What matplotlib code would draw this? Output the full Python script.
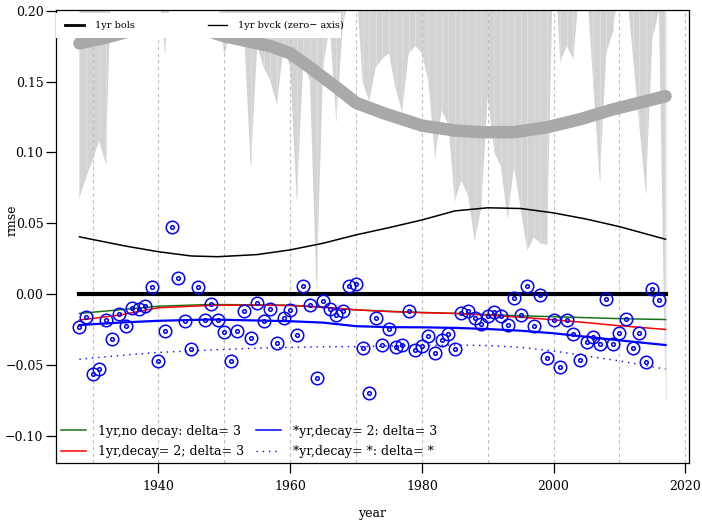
import numpy as np
from matplotlib import pyplot as plt
from matplotlib.lines import Line2D
from matplotlib.patches import Rectangle

plt.rcParams['font.family'] = ['DejaVu Serif']

# yearly rmse points (one per year, 1928-2016)
years = list(range(1928, 2017))
rmse = [-0.0229, -0.0159, -0.0561, -0.0528, -0.0182, -0.0316, -0.0142, -0.0224, -0.0096, -0.0101,
        -0.0084, 0.0051, -0.0470, -0.0260, 0.0472, 0.0114, -0.0187, -0.0388, 0.0051, -0.0178,
        -0.0066, -0.0182, -0.0266, -0.0468, -0.0262, -0.0119, -0.0306, -0.0061, -0.0189, -0.0101,
        -0.0344, -0.0164, -0.0108, -0.0290, 0.0061, -0.0075, -0.0587, -0.0049, -0.0103, -0.0143,
        -0.0117, 0.0061, 0.0070, -0.0379, -0.0699, -0.0168, -0.0355, -0.0245, -0.0372, -0.0358,
        -0.0115, -0.0395, -0.0362, -0.0292, -0.0412, -0.0320, -0.0278, -0.0388, -0.0133, -0.0115,
        -0.0170, -0.0213, -0.0154, -0.0126, -0.0154, -0.0215, -0.0026, -0.0143, 0.0056, -0.0224,
        -0.0002, -0.0451, -0.0182, -0.0510, -0.0178, -0.0278, -0.0463, -0.0337, -0.0302, -0.0351,
        -0.0030, -0.0353, -0.0273, -0.0173, -0.0376, -0.0271, -0.0475, 0.0037, -0.0037]

# lower edge of the grey band hanging from the top (1928-2017)
band_years = list(range(1928, 2018))
band = [0.068, 0.082, 0.095, 0.108, 0.092, 0.25, 0.25, 0.25, 0.25, 0.25,
        0.25, 0.25, 0.22, 0.170, 0.22, 0.25, 0.25, 0.25, 0.25, 0.25,
        0.25, 0.21, 0.168, 0.19, 0.19, 0.185, 0.090, 0.175, 0.160, 0.150,
        0.134, 0.175, 0.160, 0.066, 0.165, 0.150, 0.003, 0.160, 0.190, 0.122,
        0.190, 0.21, 0.22, 0.150, 0.136, 0.160, 0.166, 0.170, 0.145, 0.129,
        0.170, 0.175, 0.170, 0.150, 0.096, 0.130, 0.120, 0.066, 0.080, 0.070,
        0.038, 0.060, 0.140, 0.100, 0.090, 0.054, 0.090, 0.060, 0.031, 0.040,
        0.036, 0.035, 0.25, 0.164, 0.175, 0.166, 0.22, 0.22, 0.150, 0.080,
        0.170, 0.185, 0.22, 0.22, 0.170, 0.120, 0.0715, 0.180, 0.200, -0.075]

# smooth curves, read at sample years
bols_yrs = [1928, 2017]
bols = [0.0, 0.0]

grey_yrs = [1928, 1932, 1936, 1940, 1944, 1948, 1950, 1953, 1957, 1960, 1963, 1967, 1970,
            1974, 1980, 1985, 1989, 1994, 1999, 2004, 2009, 2013, 2017]
grey = [0.177, 0.181, 0.186, 0.188, 0.188, 0.185, 0.182, 0.179, 0.175, 0.170, 0.160, 0.146,
        0.135, 0.128, 0.119, 0.1155, 0.1143, 0.1143, 0.1178, 0.1234, 0.1304, 0.135, 0.1397]

bvck_yrs = [1928, 1935, 1940, 1945, 1949, 1955, 1960, 1965, 1970, 1975, 1980, 1985, 1990,
            1995, 2000, 2005, 2010, 2017]
bvck = [0.0405, 0.034, 0.030, 0.027, 0.0265, 0.028, 0.0313, 0.036, 0.0419, 0.047, 0.0524,
        0.0588, 0.061, 0.0605, 0.0574, 0.053, 0.0477, 0.0388]

fit_yrs = [1928, 1934, 1940, 1948, 1955, 1960, 1965, 1970, 1975, 1980, 1985, 1990, 1995,
           2000, 2005, 2010, 2017]
green = [-0.0135, -0.011, -0.0084, -0.0072, -0.0075, -0.0077, -0.009, -0.011, -0.012, -0.0128,
         -0.0135, -0.0143, -0.0152, -0.0158, -0.0165, -0.0172, -0.0178]
red = [-0.0182, -0.0147, -0.0095, -0.0078, -0.0077, -0.0079, -0.0092, -0.011, -0.0122, -0.013,
       -0.0135, -0.0148, -0.0162, -0.018, -0.020, -0.0222, -0.0248]
blue = [-0.0217, -0.020, -0.0187, -0.0178, -0.0185, -0.019, -0.020, -0.0225, -0.0232, -0.0233,
        -0.0237, -0.0245, -0.0257, -0.0275, -0.030, -0.0325, -0.0358]
dotted = [-0.0458, -0.0432, -0.041, -0.0393, -0.038, -0.0375, -0.037, -0.0369, -0.0365, -0.0362,
          -0.0358, -0.0362, -0.0374, -0.040, -0.0435, -0.047, -0.0528]

fig = plt.figure(figsize=(7.02, 5.20), dpi=100)
ax = fig.add_axes([56 / 702, 1 - 463 / 520, 633 / 702, 453 / 520])

ax.fill_between(band_years, band, 0.3, color='lightgray', linewidth=0, zorder=1)
# faint seams between the yearly pieces of the band
seam_lo = [min(b, 0.2) for b in band]
ax.vlines(band_years, seam_lo, 0.3, color='#e2e2e2', linewidth=0.5, zorder=1.5)
for yr in range(1930, 2021, 10):
    ax.axvline(yr, color='#bdbdbd', linestyle=(0, (3, 3)), linewidth=0.8, zorder=2)

ax.plot(grey_yrs, grey, color='darkgray', linewidth=9, solid_capstyle='round', zorder=3)
ax.plot(bvck_yrs, bvck, color='black', linewidth=1.1, zorder=4)
ax.plot(bols_yrs, bols, color='black', linewidth=3, zorder=4)
ax.plot(fit_yrs, green, color='#1a731a', linewidth=1.1, zorder=5)
ax.plot(fit_yrs, red, color='red', linewidth=1.1, zorder=5)
ax.plot(fit_yrs, blue, color='blue', linewidth=1.6, zorder=5)
ax.plot(fit_yrs, dotted, color='blue', linewidth=1.0, linestyle=(0, (1, 3.5)), zorder=5)

ax.plot(years, rmse, 'o', ms=9, mfc='none', mec='blue', mew=1.1, zorder=6)
ax.plot(years, rmse, 'o', ms=2.6, mfc='none', mec='blue', mew=1.1, zorder=6)

ax.set_xlim(1924.44, 2020.56)
ax.set_ylim(-0.119, 0.2005)
ax.set_xticks([1940, 1960, 1980, 2000, 2020])
ax.set_yticks([-0.10, -0.05, 0.0, 0.05, 0.10, 0.15, 0.20])
ax.set_yticklabels(['\u22120.10', '\u22120.05', '0.00', '0.05', '0.10', '0.15', '0.20'])
ax.tick_params(length=7, width=0.9, labelsize=9)
ax.tick_params(axis='x', pad=5)
ax.tick_params(axis='y', pad=2)
for sp in ax.spines.values():
    sp.set_linewidth(0.9)

fig.text(12 / 702, 1 - 220 / 520, 'rmse', rotation=90, ha='center', va='center', fontsize=9)
fig.text(372 / 702, 1 - 513 / 520, 'year', ha='center', va='center', fontsize=9)

# white box behind the top legend
ax.add_patch(Rectangle((0.0, 0.938), 0.45, 0.055, transform=ax.transAxes,
                       facecolor='white', edgecolor='none', zorder=9))
top_handles = [Line2D([], [], color='black', linewidth=2),
               Line2D([], [], color='black', linewidth=1)]
leg1 = ax.legend(top_handles, ['1yr bols', '1yr bvck (zero\u2212 axis)'], loc='center left',
                 bbox_to_anchor=(0.0, 0.9655), ncol=2, fontsize=7, frameon=False,
                 borderaxespad=0.0, borderpad=0.9, columnspacing=7.5, handlelength=2,
                 handletextpad=1.1)
leg1.set_zorder(10)
ax.add_artist(leg1)

bottom_handles = [Line2D([], [], color='#1a731a', linewidth=1.1),
                  Line2D([], [], color='red', linewidth=1.1),
                  Line2D([], [], color='blue', linewidth=1.1),
                  Line2D([], [], color='blue', linewidth=1.0, linestyle=(0, (1, 3.5)))]
ax.legend(bottom_handles,
          ['1yr,no decay: delta= 3', '1yr,decay= 2; delta= 3',
           '*yr,decay= 2: delta= 3', '*yr,decay= *: delta= *'],
          loc='lower left', ncol=2, fontsize=9, frameon=False, borderaxespad=0.0,
          columnspacing=0.9, handlelength=2, handletextpad=1.0, labelspacing=0.6)

fig.savefig('out.png', dpi=100)
